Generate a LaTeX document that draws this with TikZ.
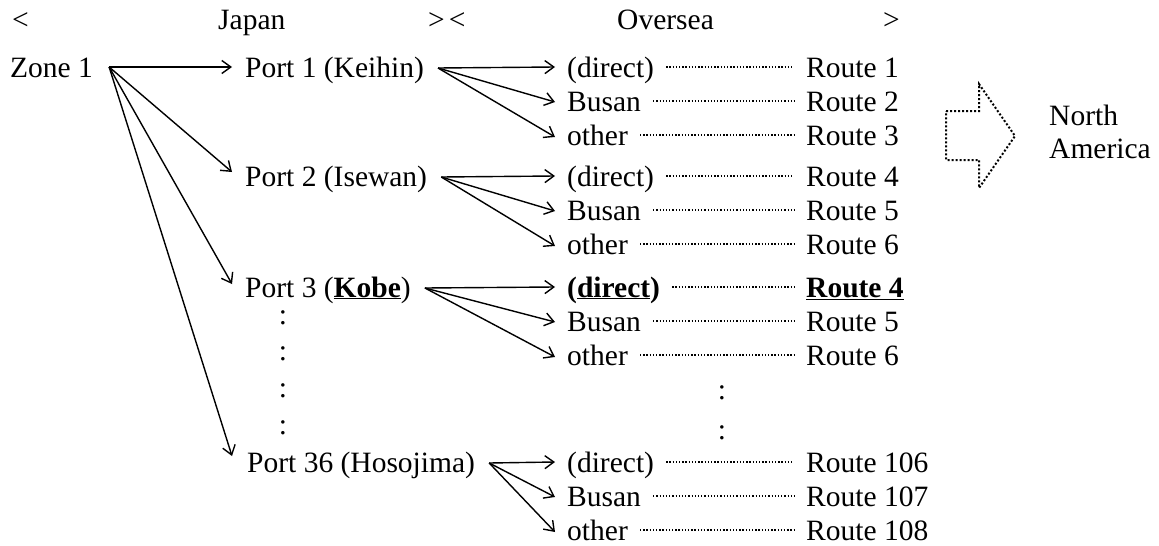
\documentclass[tikz,border=0pt]{standalone}
\usepackage{fontspec}
\setmainfont{Liberation Serif}
\usetikzlibrary{arrows.meta,calc}
\begin{document}
\begin{tikzpicture}[x=1pt,y=-1pt,
  txt/.style={inner sep=0pt,anchor=base west,font=\fontsize{29.5}{34}\selectfont},
  colon/.style={inner sep=0pt,anchor=base,font=\fontsize{29.5}{34}\selectfont},
  arr/.style={line width=1.4pt,-{Straight Barb[length=9pt,width=13pt,line width=1.4pt]}},
  leader/.style={line width=1.4pt,dash pattern=on 1.3pt off 1.9pt},
  bigarrow/.style={line width=2pt,dash pattern=on 2pt off 2pt}]
\useasboundingbox (0,0) rectangle (1159,546);
% header
\node[txt] (h1) at (12,29) {<};
\node[txt] (h2) at (218,29) {Japan};
\node[txt] (h3) at (428,29) {>\kern4pt<};
\node[txt] (h4) at (617,29) {Oversea};
\node[txt] (h5) at (883,29) {>};
% zone and ports
\node[txt] (zone) at (10,77) {Zone 1};
\node[txt] (p1) at (245,77) {Port 1 (Keihin)};
\node[txt] (p2) at (245,186) {Port 2 (Isewan)};
\node[txt] (p3) at (245,297) {Port 3 (\textbf{\underline{Kobe}})};
\node[txt] (p36) at (247,472) {Port 36 (Hosojima)};
% colons under port 3
\node[colon] (c1) at (283,324) {:};
\node[colon] (c2) at (283,360) {:};
\node[colon] (c3) at (283,397) {:};
\node[colon] (c4) at (283,434) {:};
% oversea colons
\node[colon] (c5) at (722,399) {:};
\node[colon] (c6) at (722,439) {:};
% group A
\node[txt] (d1) at (567,77) {(direct)};
\node[txt] (b1) at (567,111) {Busan};
\node[txt] (o1) at (567,145) {other};
\node[txt] (r1) at (806,77) {Route 1};
\node[txt] (r2) at (806,111) {Route 2};
\node[txt] (r3) at (806,145) {Route 3};
% group B
\node[txt] (d2) at (567,186) {(direct)};
\node[txt] (b2) at (567,220) {Busan};
\node[txt] (o2) at (567,254) {other};
\node[txt] (r4) at (806,186) {Route 4};
\node[txt] (r5) at (806,220) {Route 5};
\node[txt] (r6) at (806,254) {Route 6};
% group C
\node[txt] (d3) at (567,297) {\textbf{(\underline{direct})}};
\node[txt] (b3) at (567,331) {Busan};
\node[txt] (o3) at (567,365) {other};
\node[txt] (r4b) at (806,297) {\textbf{\underline{Route 4}}};
\node[txt] (r5b) at (806,331) {Route 5};
\node[txt] (r6b) at (806,365) {Route 6};
% group D
\node[txt] (d4) at (567,472) {(direct)};
\node[txt] (b4) at (567,506) {Busan};
\node[txt] (o4) at (567,540) {other};
\node[txt] (r106) at (806,472) {Route 106};
\node[txt] (r107) at (806,506) {Route 107};
\node[txt] (r108) at (806,540) {Route 108};
% north america
\node[txt] (na1) at (1049,125) {North};
\node[txt] (na2) at (1049,158) {America};
% zone arrows
\coordinate (zs) at ($(zone.base east)+(16,-10)$);
\draw[arr] (zs) -- ($(p1.base west)+(-13,-10)$);
\draw[arr] (zs) -- ($(p2.base west)+(-13,-14)$);
\draw[arr] (zs) -- ($(p3.base west)+(-13,-13)$);
\draw[arr] (zs) -- ($(p36.base west)+(-15,-16)$);
% port fans
\foreach \p/\d/\b/\o in {p1/d1/b1/o1,p2/d2/b2/o2,p3/d3/b3/o3,p36/d4/b4/o4}{
  \coordinate (s) at ($(\p.base east)+(14,-9)$);
  \draw[arr] (s) -- ($(\d.base west)+(-12,-10)$);
  \draw[arr] (s) -- ($(\b.base west)+(-12,-9)$);
  \draw[arr] (s) -- ($(\o.base west)+(-12,-8)$);
}
% leaders
\foreach \a/\r in {d1/r1,b1/r2,o1/r3,d2/r4,b2/r5,o2/r6,d3/r4b,b3/r5b,o3/r6b,d4/r106,b4/r107,o4/r108}{
  \draw[leader] ($(\a.base east)+(12,-10)$) -- ($(\r.base west)+(-12,-10)$);
}
% big dotted arrow
\draw[bigarrow] (946,111) -- (979,111) -- (979,84) -- (1015,136) -- (979,188) -- (979,160) -- (946,160) -- cycle;
\end{tikzpicture}
\end{document}
